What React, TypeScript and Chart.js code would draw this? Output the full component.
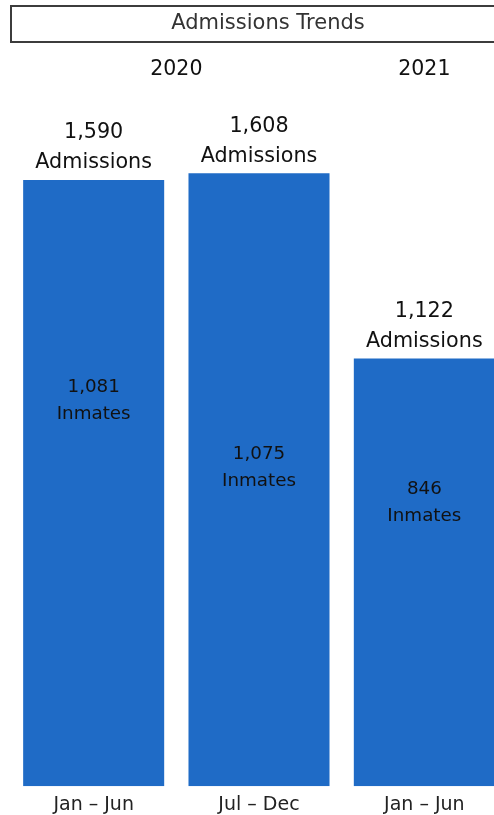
import React, { useEffect, useRef } from "react";
import { Chart, registerables } from "chart.js";

Chart.register(...registerables);

const TITLE = "Admissions Trends";
const periods = ["Jan – Jun", "Jul – Dec", "Jan – Jun"];
const years = ["2020", "2020", "2021"];
const admissions = [1590, 1608, 1122];
const inmates = [1081, 1075, 846];

// layout: where the inner "Inmates" label sits, as share of bar height from the base
const inmateLabelLift = [0.636, 0.521, 0.665];

const BAR_COLOR = "#1f6bc6";
const FONT = "'DejaVu Sans', 'Noto Sans', sans-serif";

const fmt = (n: number) => n.toLocaleString("en-US");

const labelsPlugin = {
  id: "customLabels",
  afterDraw(chart: any) {
    const ctx = chart.ctx as CanvasRenderingContext2D;
    const meta = chart.getDatasetMeta(0);
    const bars = meta.data as any[];
    ctx.save();
    // title box
    ctx.strokeStyle = "#3c3c3c";
    ctx.lineWidth = 2;
    ctx.strokeRect(11, 6, chart.width + 20, 36);
    ctx.fillStyle = "#333333";
    ctx.font = `21px ${FONT}`;
    ctx.textAlign = "center";
    ctx.textBaseline = "middle";
    ctx.fillText(TITLE, 268, 24);

    // year headers centered above their group
    const groups: Record<string, number[]> = {};
    years.forEach((y, i) => {
      (groups[y] = groups[y] || []).push(bars[i].x);
    });
    ctx.fillStyle = "#111111";
    ctx.font = `20.5px ${FONT}`;
    Object.keys(groups).forEach((y) => {
      const xs = groups[y];
      const cx = (Math.min(...xs) + Math.max(...xs)) / 2;
      ctx.fillText(y, cx, 70);
    });

    bars.forEach((bar, i) => {
      const { x, y, base } = bar.getProps(["x", "y", "base"], true);
      ctx.fillStyle = "#111111";
      ctx.font = `20.7px ${FONT}`;
      ctx.fillText(fmt(admissions[i]), x, y - 47);
      ctx.fillText("Admissions", x, y - 17);
      const cy = base - inmateLabelLift[i] * (base - y);
      ctx.font = `18.3px ${FONT}`;
      ctx.fillText(fmt(inmates[i]), x, cy - 13);
      ctx.fillText("Inmates", x, cy + 14);
    });
    ctx.restore();
  },
};

export default function App() {
  const ref = useRef<HTMLCanvasElement | null>(null);
  useEffect(() => {
    if (!ref.current) return;
    const chart = new Chart(ref.current, {
      type: "bar",
      data: {
        labels: periods,
        datasets: [
          {
            data: admissions,
            backgroundColor: BAR_COLOR,
            barPercentage: 0.853,
            categoryPercentage: 1,
          },
        ],
      },
      options: {
        responsive: false,
        animation: false,
        layout: { padding: { left: 11, right: 0, top: 100, bottom: 3 } },
        plugins: { legend: { display: false }, tooltip: { enabled: false } },
        scales: {
          x: {
            grid: { display: false, drawTicks: false },
            border: { display: false },
            ticks: { font: { family: FONT, size: 19 }, color: "#222222", padding: 7 },
          },
          y: { display: false, min: 0, max: 1800 },
        },
      },
      plugins: [labelsPlugin],
    });
    return () => chart.destroy();
  }, []);
  return (
    <div
      style={{
        position: "absolute",
        left: 0,
        top: 0,
        width: 494,
        height: 815,
        overflow: "hidden",
        background: "#ffffff",
      }}
    >
      <canvas ref={ref} width={507} height={826} style={{ width: 507, height: 826, display: "block" }} />
    </div>
  );
}
